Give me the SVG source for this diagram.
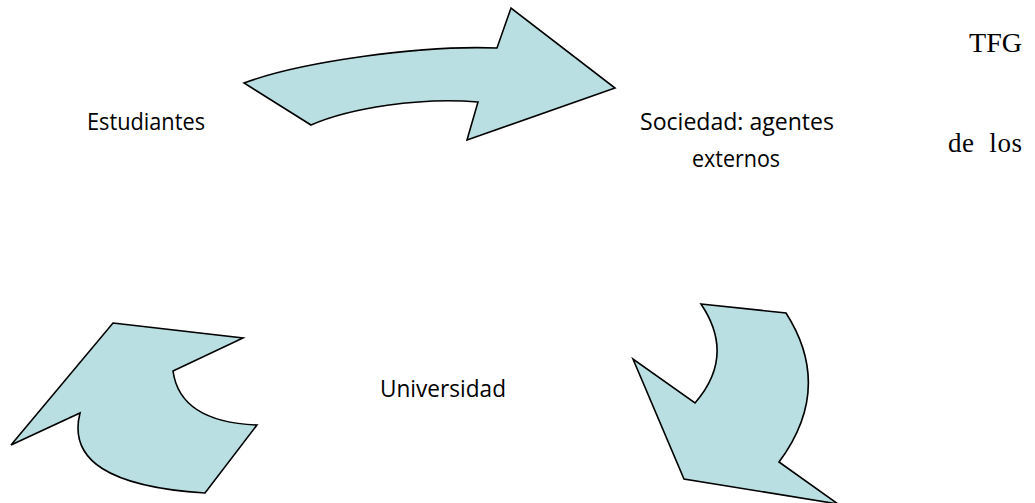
<svg xmlns="http://www.w3.org/2000/svg" width="1035" height="503" viewBox="0 0 1035 503">
<style>
.arrow{fill:#B9DFE2;stroke:#000;stroke-width:1.6;stroke-linejoin:miter}
.sans{font-family:"Open Sans","Liberation Sans",sans-serif;font-size:23.5px;fill:#000}
.serif{font-family:"Liberation Serif","Times New Roman",serif;font-size:27px;fill:#000}
</style>
<rect width="1035" height="503" fill="#fff"/>
<g id="connectors">
<path id="arrow-top" class="arrow" d="M244,83 C300,62 420,45 497,48 L511,8 L615,88 L467,140 L478,102 C420,97 350,108 311,125 Z"/>
<path id="arrow-right" class="arrow" d="M701,304 L786,313 Q834,388 779,462 L838,504 L684,479 L633,359 L695,403 Q736,356 701,304 Z"/>
<path id="arrow-left" class="arrow" d="M113,323 L243,338 L173,371 Q180,422 257,425 L205,493 Q62,484 80,413 L11,445 Z"/>
</g>
<g id="node-estudiantes">
<text class="sans" x="87" y="130" textLength="118" lengthAdjust="spacingAndGlyphs">Estudiantes</text>
</g>
<g id="node-sociedad">
<text class="sans" x="640" y="130" textLength="194" lengthAdjust="spacingAndGlyphs">Sociedad: agentes</text>
<text class="sans" x="692" y="167" textLength="88" lengthAdjust="spacingAndGlyphs">externos</text>
</g>
<g id="node-universidad">
<text class="sans" x="380" y="397" textLength="126" lengthAdjust="spacingAndGlyphs">Universidad</text>
</g>
<g id="fragment-tfg">
<text class="serif" x="969" y="52" textLength="53" lengthAdjust="spacingAndGlyphs">TFG</text>
</g>
<g id="fragment-delos">
<text class="serif" x="948" y="152" textLength="74" lengthAdjust="spacing" xml:space="preserve">de  los</text>
</g>
</svg>
